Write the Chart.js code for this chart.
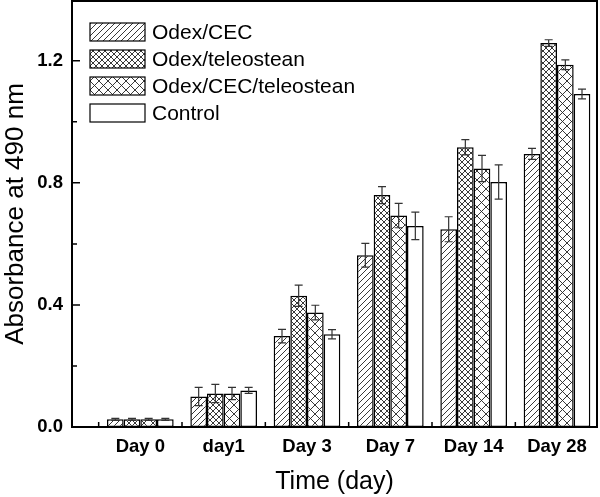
<!DOCTYPE html>
<html>
<head>
<meta charset="utf-8">
<script src="https://cdn.jsdelivr.net/npm/chart.js@4/dist/chart.umd.min.js"></script>
<style>
  html, body { margin: 0; padding: 0; background: #fff; }
  #wrap { width: 600px; height: 497px; }
</style>
</head>
<body>
<div id="wrap"><canvas id="chart" width="600" height="497"></canvas></div>
<script>
const categories = ["Day 0", "day1", "Day 3", "Day 7", "Day 14", "Day 28"];
const seriesNames = ["Odex/CEC", "Odex/teleostean", "Odex/CEC/teleostean", "Control"];

const odexCec = [0.025, 0.100, 0.298, 0.563, 0.648, 0.895];
const odexCecErr = [0.003, 0.030, 0.022, 0.039, 0.041, 0.018];
const odexTel = [0.025, 0.110, 0.430, 0.760, 0.917, 1.258];
const odexTelErr = [0.003, 0.030, 0.035, 0.028, 0.025, 0.011];
const odexCecTel = [0.025, 0.110, 0.375, 0.693, 0.847, 1.187];
const odexCecTelErr = [0.003, 0.020, 0.024, 0.040, 0.043, 0.016];
const control = [0.025, 0.120, 0.304, 0.659, 0.803, 1.091];
const controlErr = [0.003, 0.010, 0.015, 0.045, 0.056, 0.016];

const yMajorTicks = [0, 0.4, 0.8, 1.2];
const yMinorTicks = [0.2, 0.6, 1.0];
const xMinorTicks = [0.5, 1.5, 2.5, 3.5, 4.5, 5.5];

const FONT = "'Liberation Sans', Arial, sans-serif";

// hatch tiles
function makePattern(kind, size) {
  const c = document.createElement("canvas");
  c.width = size;
  c.height = size;
  const g = c.getContext("2d");
  g.fillStyle = "#fff";
  g.fillRect(0, 0, size, size);
  g.strokeStyle = "#222";
  g.lineWidth = 0.9;
  const fwd = () => {
    g.beginPath();
    g.moveTo(-1, size + 1); g.lineTo(size + 1, -1);
    g.moveTo(-1, 1); g.lineTo(1, -1);
    g.moveTo(size - 1, size + 1); g.lineTo(size + 1, size - 1);
    g.stroke();
  };
  const back = () => {
    g.beginPath();
    g.moveTo(-1, -1); g.lineTo(size + 1, size + 1);
    g.moveTo(size - 1, -1); g.lineTo(size + 1, 1);
    g.moveTo(-1, size - 1); g.lineTo(1, size + 1);
    g.stroke();
  };
  if (kind === "fwd") fwd();
  if (kind === "cross") { fwd(); back(); }
  return g.createPattern(c, "repeat");
}

const ctx = document.getElementById("chart").getContext("2d");
const fills = [makePattern("fwd", 6), makePattern("cross", 6), makePattern("cross", 9), "#fff"];
const values = [odexCec, odexTel, odexCecTel, control];
const errors = [odexCecErr, odexTelErr, odexCecTelErr, controlErr];

const datasets = values.map((vals, k) => ({
  label: seriesNames[k],
  data: vals.map((v, i) => ({ x: i + 1, y: v })),
  errors: errors[k],
  backgroundColor: fills[k],
  borderColor: "#000",
  borderWidth: 1.5,
  borderSkipped: false,
  categoryPercentage: 0.8,
  barPercentage: 1.0,
}));

const errorBars = {
  id: "errorBars",
  afterDatasetsDraw(chart) {
    const g = chart.ctx;
    const y = chart.scales.y;
    g.save();
    g.strokeStyle = "#333";
    g.lineWidth = 1.2;
    chart.data.datasets.forEach((ds, k) => {
      const meta = chart.getDatasetMeta(k);
      meta.data.forEach((bar, i) => {
        const v = ds.data[i].y, e = ds.errors[i];
        const top = y.getPixelForValue(v + e);
        const bot = y.getPixelForValue(v - e);
        g.beginPath();
        g.moveTo(bar.x, top); g.lineTo(bar.x, bot);
        g.moveTo(bar.x - 4, top); g.lineTo(bar.x + 4, top);
        g.moveTo(bar.x - 4, bot); g.lineTo(bar.x + 4, bot);
        g.stroke();
      });
    });
    g.restore();
  },
};

const frameAndTicks = {
  id: "frameAndTicks",
  afterDraw(chart) {
    const g = chart.ctx;
    const a = chart.chartArea;
    const x = chart.scales.x, y = chart.scales.y;
    g.save();
    g.strokeStyle = "#000";
    g.lineWidth = 2;
    g.strokeRect(a.left, a.top, a.right - a.left, a.bottom - a.top);
    g.lineWidth = 1.5;
    g.beginPath();
    yMajorTicks.forEach((v) => {
      const p = y.getPixelForValue(v);
      g.moveTo(a.left, p); g.lineTo(a.left + 8, p);
    });
    yMinorTicks.forEach((v) => {
      const p = y.getPixelForValue(v);
      g.moveTo(a.left, p); g.lineTo(a.left + 5, p);
    });
    xMinorTicks.forEach((v) => {
      const p = x.getPixelForValue(v);
      g.moveTo(p, a.bottom); g.lineTo(p, a.bottom - 5);
    });
    g.stroke();

    // legend inside the plot, top-left
    g.font = "21px " + FONT;
    g.textBaseline = "middle";
    chart.data.datasets.forEach((ds, k) => {
      const cy = 32 + k * 27;
      g.fillStyle = ds.backgroundColor;
      g.fillRect(90, cy - 9, 55, 18);
      g.lineWidth = 1.2;
      g.strokeStyle = "#000";
      g.strokeRect(90, cy - 9, 55, 18);
      g.fillStyle = "#000";
      g.fillText(ds.label, 152, cy + 1);
    });
    g.restore();
  },
};

new Chart(ctx, {
  type: "bar",
  data: { datasets },
  options: {
    responsive: false,
    animation: false,
    devicePixelRatio: 1,
    layout: { padding: { top: 1, right: 3, left: 0, bottom: 0 } },
    plugins: { legend: { display: false }, tooltip: { enabled: false } },
    scales: {
      x: {
        type: "linear",
        offset: false,
        min: 0.18,
        max: 6.48,
        grid: { display: false, offset: false },
        border: { display: true, color: "#000", width: 2 },
        afterBuildTicks: (s) => { s.ticks = categories.map((c, i) => ({ value: i + 1 })); },
        afterFit: (s) => { s.height = 70; s.paddingLeft = 0; s.paddingRight = 0; },
        ticks: {
          autoSkip: false,
          maxRotation: 0,
          padding: 1,
          color: "#000",
          font: { family: FONT, size: 18.5, weight: "bold" },
          callback: (v) => categories[Math.round(v) - 1],
        },
        title: {
          display: true,
          text: "Time (day)",
          color: "#000",
          font: { family: FONT, size: 25 },
          padding: { top: 2, bottom: 0 },
        },
      },
      y: {
        min: 0,
        max: 1.396,
        grid: { display: false },
        border: { display: true, color: "#000", width: 2 },
        afterBuildTicks: (s) => { s.ticks = yMajorTicks.map((v) => ({ value: v })); },
        afterFit: (s) => { s.width = 72; s.paddingTop = 0; s.paddingBottom = 0; },
        ticks: {
          padding: 1,
          color: "#000",
          font: { family: FONT, size: 18.5, weight: "bold" },
          callback: (v) => v.toFixed(1),
        },
        title: {
          display: true,
          text: "Absorbance at 490 nm",
          color: "#000",
          font: { family: FONT, size: 26 },
          padding: { top: 0, bottom: 0 },
        },
      },
    },
  },
  plugins: [errorBars, frameAndTicks],
});
</script>
</body>
</html>
